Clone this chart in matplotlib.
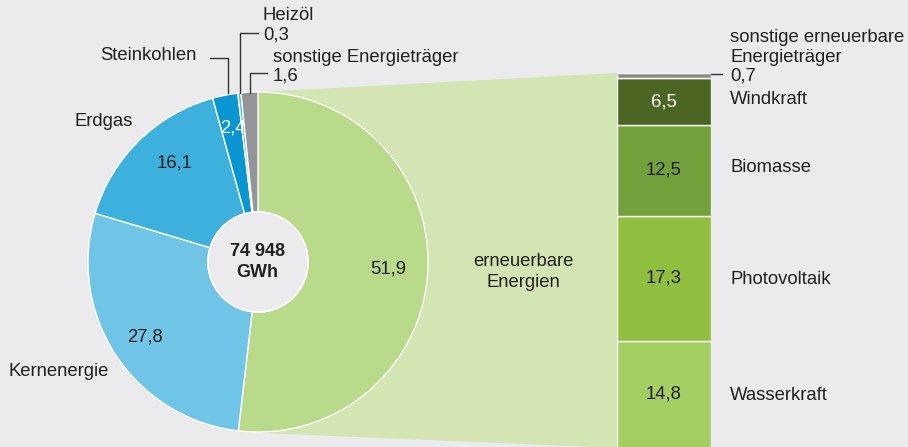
import matplotlib
matplotlib.use("Agg")
import matplotlib.pyplot as plt
from matplotlib.patches import Polygon, Circle

plt.rcParams['font.family'] = ['Liberation Sans', 'DejaVu Sans']

# ---- data ----
pie_labels = ["erneuerbare Energien", "Kernenergie", "Erdgas", "Steinkohlen", "Heizöl", "sonstige Energieträger"]
pie_values = [51.9, 27.8, 16.1, 2.4, 0.3, 1.6]
pie_value_labels = ["51,9", "27,8", "16,1", "2,4", "0,3", "1,6"]
pie_colors = ["#b9d98b", "#70c4e6", "#3db0dd", "#0a96d2", "#5bb8e0", "#939598"]

ren_labels = ["Wasserkraft", "Photovoltaik", "Biomasse", "Windkraft", "sonstige erneuerbare", "Energieträger"]
ren_values = [14.8, 17.3, 12.5, 6.5, 0.7]
ren_value_labels = ["14,8", "17,3", "12,5", "6,5", "0,7"]
ren_colors = ["#a3cf62", "#90be3e", "#72a03b", "#4b6522", "#8c8c8c"]

total_label = "74 948\nGWh"

BG = "#ebebed"
TXT = "#231f20"
W, H = 908, 447

fig = plt.figure(figsize=(W / 100, H / 100), dpi=100, facecolor=BG)
ax = fig.add_axes([0, 0, 1, 1])
ax.set_facecolor(BG)

def Y(py):
    return H - py

cx, cy, R, r_in = 258, Y(262), 170, 50
bar_left, bar_right, bar_top, bar_bot = 617, 711, 73, 448

# connecting band
ax.add_patch(Polygon([(cx, cy + R), (bar_left, Y(bar_top)), (bar_left, Y(bar_bot)), (240, Y(432))],
                     closed=True, facecolor="#d2e5b2", edgecolor="none", zorder=0))

wedges, _ = ax.pie(pie_values, colors=pie_colors, startangle=90, counterclock=False,
                   center=(cx, cy), radius=R, frame=True,
                   wedgeprops=dict(width=R - r_in, edgecolor="white", linewidth=1))
ax.add_patch(Circle((cx, cy), r_in, facecolor=BG, edgecolor="white", linewidth=1.2, zorder=3))
ax.set_xlim(0, W)
ax.set_ylim(0, H)
ax.set_aspect('equal')
ax.axis('off')

fs = 13.3
# center
ax.text(cx - 1, cy, total_label, ha='center', va='center', fontsize=13, fontweight='bold',
        color=TXT, linespacing=1.25, zorder=4)

# values inside wedges
ax.text(388, Y(269), pie_value_labels[0], ha='center', va='center', fontsize=fs, color=TXT)
ax.text(145, Y(337), pie_value_labels[1], ha='center', va='center', fontsize=fs, color=TXT)
ax.text(175, Y(163), pie_value_labels[2], ha='center', va='center', fontsize=fs, color=TXT)
ax.text(233, Y(128), pie_value_labels[3], ha='center', va='center', fontsize=fs, color="white")

# category labels
ax.text(8, Y(372), pie_labels[1], ha='left', va='center', fontsize=fs, color=TXT)
ax.text(75, Y(122), pie_labels[2], ha='left', va='center', fontsize=fs, color=TXT)
ax.text(197, Y(56), pie_labels[3], ha='right', va='center', fontsize=fs, color=TXT)
ax.text(263, Y(15), pie_labels[4], ha='left', va='center', fontsize=fs, color=TXT)
ax.text(263, Y(35), pie_value_labels[4], ha='left', va='center', fontsize=fs, color=TXT)
ax.text(273, Y(57), pie_labels[5], ha='left', va='center', fontsize=fs, color=TXT)
ax.text(273, Y(76), pie_value_labels[5], ha='left', va='center', fontsize=fs, color=TXT)
ax.text(523, Y(272), "erneuerbare\nEnergien", ha='center', va='center', fontsize=fs, color=TXT,
        linespacing=1.25)

lc = "#333333"
ax.plot([210, 228, 228], [Y(58), Y(58), Y(93)], color=lc, lw=1)
ax.plot([258, 240, 240], [Y(33), Y(33), Y(93)], color=lc, lw=1)
ax.plot([267, 250, 250], [Y(73), Y(73), Y(93)], color=lc, lw=1)
ax.plot([711, 722], [Y(74), Y(74)], color=lc, lw=1)

# stacked bar
bax = fig.add_axes([bar_left / W, Y(bar_bot) / H, (bar_right - bar_left) / W, (bar_bot - bar_top) / H])
bax.set_facecolor('none')
bax.axis('off')
bottom = 0
for v, c in zip(ren_values, ren_colors):
    bax.bar(0, v, bottom=bottom, width=1, color=c, edgecolor="white", linewidth=1)
    bottom += v
bax.set_xlim(-0.5, 0.5)
bax.set_ylim(0, sum(ren_values))
bottom = 0
for i, (v, vl) in enumerate(zip(ren_values, ren_value_labels)):
    if i < 4:
        col = "white" if i == 3 else TXT
        bax.text(0, bottom + v / 2, vl, ha='center', va='center', fontsize=fs, color=col)
    bottom += v

# right labels
ax.text(730, Y(395), ren_labels[0], ha='left', va='center', fontsize=fs, color=TXT)
ax.text(730, Y(279), ren_labels[1], ha='left', va='center', fontsize=fs, color=TXT)
ax.text(730, Y(168), ren_labels[2], ha='left', va='center', fontsize=fs, color=TXT)
ax.text(730, Y(100), ren_labels[3], ha='left', va='center', fontsize=fs, color=TXT)
ax.text(730, Y(38), ren_labels[4], ha='left', va='center', fontsize=fs, color=TXT)
ax.text(730, Y(57), ren_labels[5], ha='left', va='center', fontsize=fs, color=TXT)
ax.text(730, Y(76), ren_value_labels[4], ha='left', va='center', fontsize=fs, color=TXT)

fig.savefig("out.png", dpi=100, facecolor=BG)
